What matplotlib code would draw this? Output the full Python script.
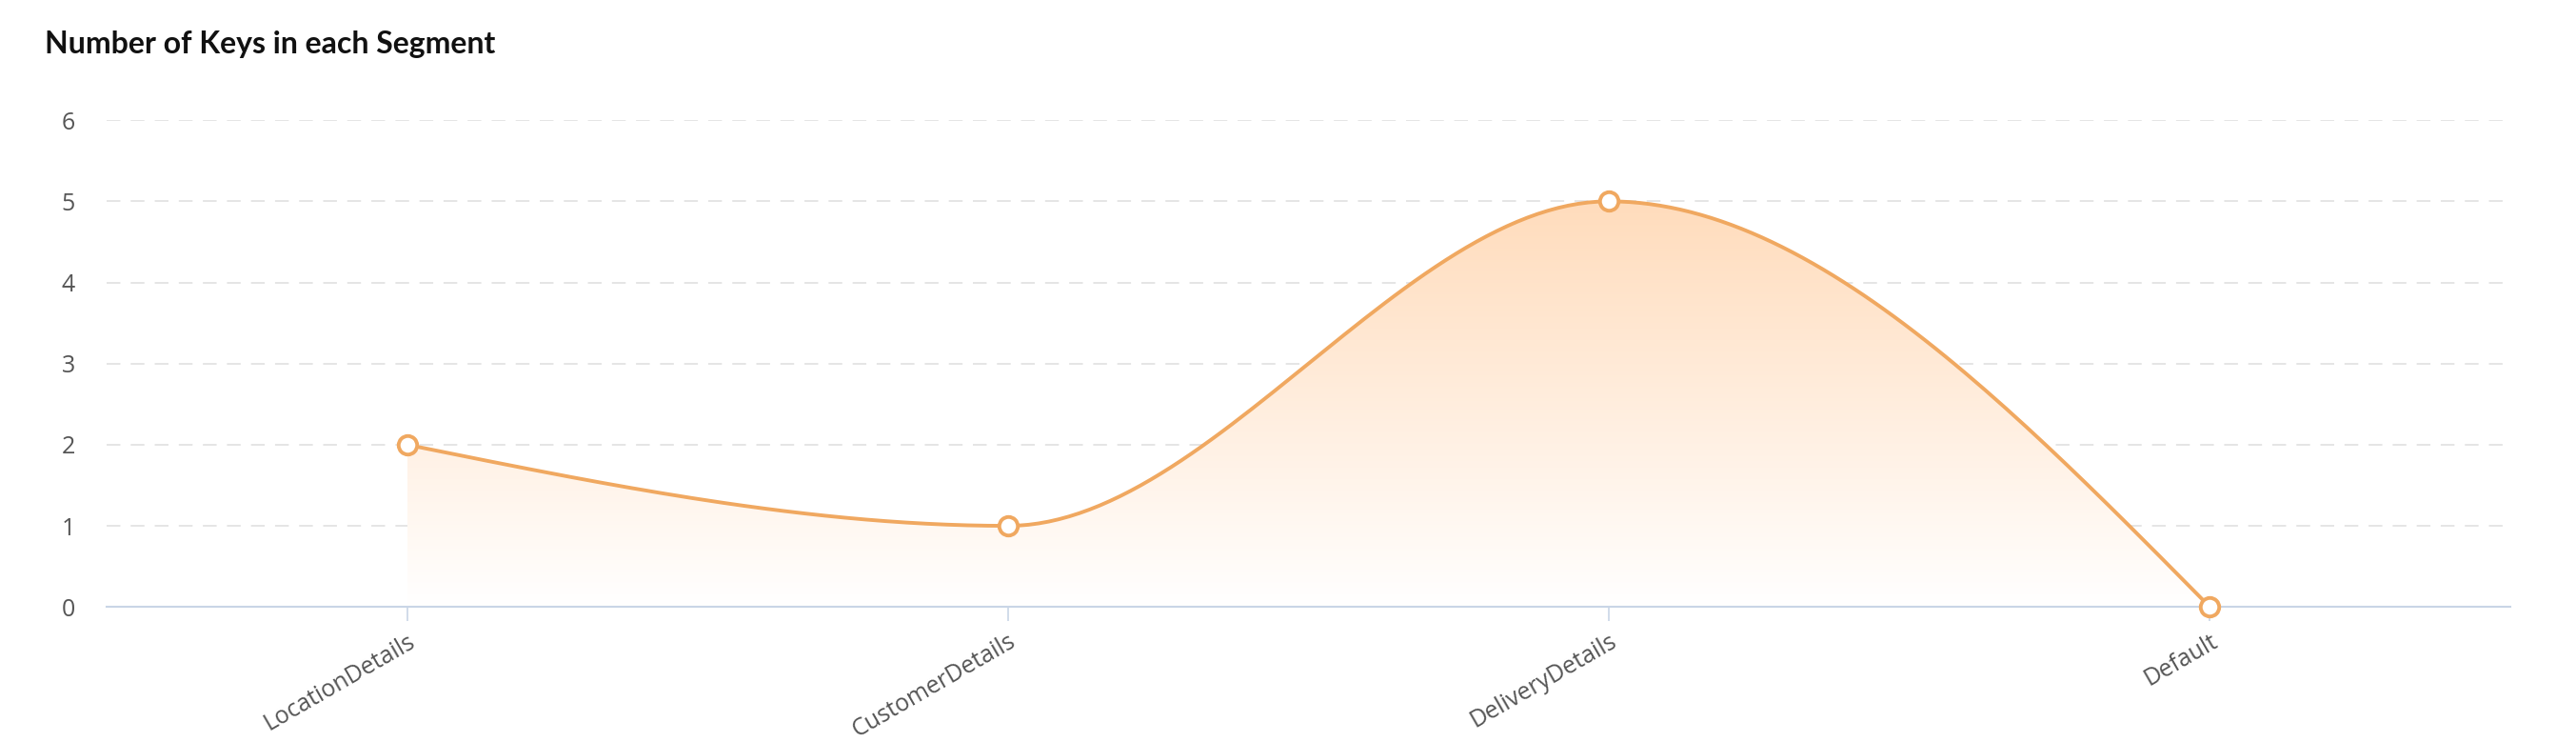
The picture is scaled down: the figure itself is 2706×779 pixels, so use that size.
import numpy as np
import matplotlib
matplotlib.use("Agg")
import matplotlib.pyplot as plt
from matplotlib.patches import Polygon

# chart data
segments = ["LocationDetails", "CustomerDetails", "DeliveryDetails", "Default"]
key_counts = [2, 1, 5, 0]
y_ticks = [0, 1, 2, 3, 4, 5, 6]

LINE = "#f0a860"
GRID = "#e3e3e3"
AXIS = "#c9d5e6"
TEXT = "#555555"


def monotone_curve(x, y, n=60):
    # monotone cubic (like d3 curveMonotoneX), used only to draw the smooth line
    x = np.asarray(x, float)
    y = np.asarray(y, float)
    h = np.diff(x)
    s = np.diff(y) / h
    m = np.zeros_like(y)
    for i in range(1, len(y) - 1):
        p = (s[i - 1] * h[i] + s[i] * h[i - 1]) / (h[i - 1] + h[i])
        m[i] = (np.sign(s[i - 1]) + np.sign(s[i])) * min(abs(s[i - 1]), abs(s[i]), 0.5 * abs(p))
    m[0] = (3 * s[0] - m[1]) / 2
    m[-1] = (3 * s[-1] - m[-2]) / 2
    xs, ys = [], []
    for i in range(len(h)):
        t = np.linspace(0, 1, n)
        h00 = 2 * t**3 - 3 * t**2 + 1
        h10 = t**3 - 2 * t**2 + t
        h01 = -2 * t**3 + 3 * t**2
        h11 = t**3 - t**2
        xs.append(x[i] + t * h[i])
        ys.append(h00 * y[i] + h10 * h[i] * m[i] + h01 * y[i + 1] + h11 * h[i] * m[i + 1])
    return np.concatenate(xs), np.concatenate(ys)


fig = plt.figure(figsize=(27.06, 7.79), dpi=100)
ax = fig.add_axes([0.0414, 0.182, 0.9331, 0.656])

xpos = np.arange(len(segments))
cx, cy = monotone_curve(xpos, key_counts)

# gradient area under the line
top = max(key_counts)
grad = np.linspace(0, 1, 256).reshape(-1, 1)
cmap = matplotlib.colors.LinearSegmentedColormap.from_list("fade", ["#ffffff", "#ffdcbc"])
img = ax.imshow(grad, extent=[xpos[0], xpos[-1], 0, top], origin="lower", aspect="auto",
                cmap=cmap, zorder=1)
poly = Polygon(np.column_stack([np.r_[cx, cx[-1], cx[0]], np.r_[cy, 0, 0]]),
               closed=True, transform=ax.transData, facecolor="none", edgecolor="none")
ax.add_patch(poly)
img.set_clip_path(poly)

ax.plot(cx, cy, color=LINE, lw=2.8, zorder=3, solid_capstyle="round")
ax.plot(xpos, key_counts, "o", ms=14, mfc="white", mec=LINE, mew=2.8, zorder=4, clip_on=False)

ax.set_xlim(-0.5, len(segments) - 0.5)
ax.set_ylim(0, 6)
ax.set_yticks(y_ticks)
ax.set_yticklabels([str(v) for v in y_ticks])
for v in y_ticks[1:]:
    ax.axhline(v, color=GRID, lw=1.3, dashes=(8, 6), zorder=0)

ax.set_xticks(xpos)
ax.set_xticklabels(segments, rotation=30, ha="right", rotation_mode="anchor")

for side in ["top", "right", "left"]:
    ax.spines[side].set_visible(False)
ax.spines["bottom"].set_color(AXIS)
ax.spines["bottom"].set_linewidth(1.5)
ax.spines["bottom"].set_zorder(2)
ax.tick_params(axis="x", colors=AXIS, length=11, width=1.2, pad=6, labelcolor=TEXT, labelsize=18)
ax.tick_params(axis="y", length=0, pad=24, labelcolor=TEXT, labelsize=18)
for lab in ax.get_xticklabels() + ax.get_yticklabels():
    lab.set_family("Open Sans")

fig.text(0.0174, 0.94, "Number of Keys in each Segment", fontsize=23, fontweight="bold",
         family="Lato", color="#111111", va="center", ha="left")

fig.savefig("out.png", dpi=100, facecolor="white")
